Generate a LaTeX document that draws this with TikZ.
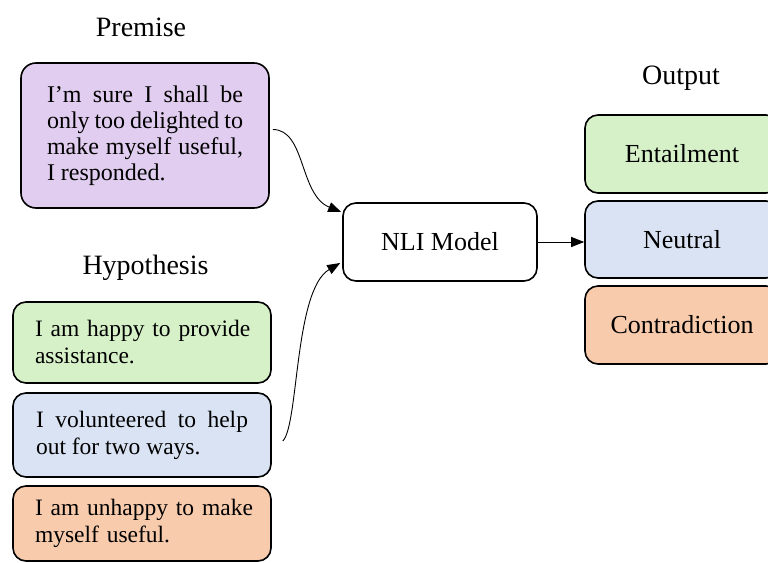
\documentclass[tikz,border=0pt]{standalone}
\usepackage{fontspec}
\setmainfont{Liberation Serif}
\usetikzlibrary{arrows.meta}
\definecolor{cpurple}{HTML}{E1CDEF}
\definecolor{cgreen}{HTML}{D6F1C8}
\definecolor{cblue}{HTML}{DAE3F3}
\definecolor{corange}{HTML}{F8CBAD}
\newcommand{\lineL}[1]{\makebox[\linewidth][l]{#1}}
\tikzset{
  box/.style={draw=black, line width=1.6pt, rounded corners=13pt, inner sep=0pt},
  bodytext/.style={font=\fontsize{23.5}{27}\selectfont},
  label/.style={font=\fontsize{28}{30}\selectfont, inner sep=0pt},
  conn/.style={line width=0.9pt, -{Triangle[length=13pt,width=10pt]}},
}
\begin{document}
\begin{tikzpicture}[x=1pt,y=-1pt]
\useasboundingbox (0,0) rectangle (768,562);
\clip (0,0) rectangle (768,562);
\fill[white] (0,0) rectangle (768,562);

% labels
\node[label] (lprem) at (141,27) {Premise};
\node[label] (lhyp) at (145.5,268) {Hypothesis};
\node[label] (lout) at (681,78) {Output};

% premise
\node[box, fill=cpurple, minimum width=248pt, minimum height=145pt, rounded corners=15pt,
      text width=196pt, align=justify, font=\fontsize{24}{26}\selectfont] (prem) at (145,135.5)
  {I’m sure I shall be\linebreak only too delighted to\linebreak make myself useful,\linebreak I responded.};

% hypotheses
\node[box, bodytext, fill=cgreen, minimum width=258pt, minimum height=81pt,
      text width=214pt, align=left] (hyp1) at (142,342.5)
  {\lineL{I am happy to provide}\\\lineL{assistance.}};
\node[box, bodytext, fill=cblue, minimum width=258pt, minimum height=84pt,
      text width=212pt, align=justify] (hyp2) at (142,435)
  {I volunteered to help\linebreak out for two ways.};
\node[box, bodytext, fill=corange, minimum width=258pt, minimum height=75pt,
      text width=214pt, align=left] (hyp3) at (142,523.5)
  {\lineL{I am unhappy to make}\\\lineL{myself useful.}};

% model
\node[box, fill=white, minimum width=194pt, minimum height=78pt, font=\fontsize{26}{28}\selectfont] (nli) at (440,242) {NLI Model};

% outputs
\node[box, fill=cgreen, minimum width=194pt, minimum height=78pt, font=\fontsize{26}{28}\selectfont] (ent) at (682,154) {Entailment};
\node[box, fill=cblue, minimum width=194pt, minimum height=77pt, font=\fontsize{26}{28}\selectfont] (neu) at (682,239.5) {Neutral};
\node[box, fill=corange, minimum width=194pt, minimum height=78pt, font=\fontsize{26}{28}\selectfont] (con) at (682,325) {Contradiction};

% connectors
\draw[conn] ([xshift=3pt,yshift=6pt]prem.east) .. controls +(33,0) and +(-42,-17) .. ([xshift=-1pt,yshift=30pt]nli.west);
\draw[conn] ([xshift=11pt,yshift=-6pt]hyp2.east) .. controls +(16,-16) and +(-46,27) .. ([xshift=-2pt,yshift=-21pt]nli.west);
\draw[conn] (nli.east) -- (nli.east -| neu.west);
\end{tikzpicture}
\end{document}
